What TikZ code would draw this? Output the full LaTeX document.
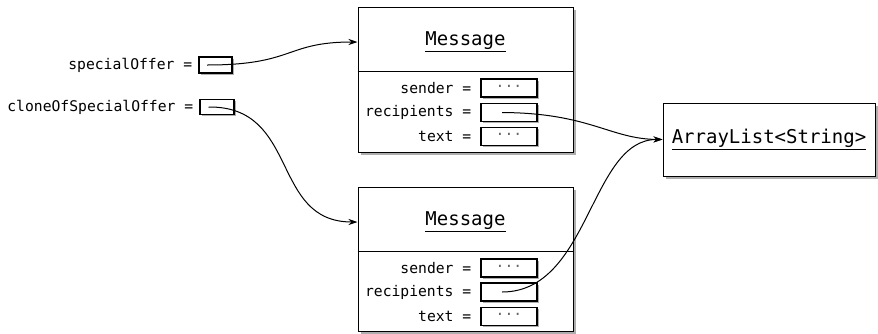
\documentclass[tikz,border=0pt]{standalone}
\usepackage{fontspec}
\setmonofont{DejaVu Sans Mono}
\usetikzlibrary{positioning}
\usetikzlibrary{shadows,arrows.meta}

\begin{document}
\begin{tikzpicture}[x=1pt,y=-1pt,
  objbox/.style={draw,line width=1pt,fill=white,
    drop shadow={shadow xshift=2.5pt,shadow yshift=-2.5pt,fill=black!45,opacity=.7}},
  slot/.style={draw,line width=1.1pt,fill=white,inner sep=0pt,minimum width=56pt,minimum height=18pt,
    font=\ttfamily\fontsize{14.7}{17}\selectfont,text=black!60,
    drop shadow={shadow xshift=1.5pt,shadow yshift=-1.5pt,fill=black!45,opacity=.7}},
  lbl/.style={inner sep=0pt,font=\ttfamily\fontsize{14.7}{17}\selectfont},
  ttl/.style={inner sep=0pt,font=\ttfamily\fontsize{19}{22}\selectfont},
  ref/.style={line width=1pt,-{Stealth[length=9pt,width=6pt]}}]
\useasboundingbox (0,0) rectangle (878,333);

% the two variables
\node[slot,minimum width=33pt,minimum height=16pt] (offer) at (215.5,65) {};
\node[lbl,left=6pt of offer] (offerlbl) {specialOffer =};
\node[slot,minimum width=34pt,minimum height=15pt] (clone) at (217,107) {};
\node[lbl,left=6pt of clone] (clonelbl) {cloneOfSpecialOffer =};

% first Message object
\node[objbox,minimum width=215pt,minimum height=145pt] (msgA) at (465.5,79.5) {};
\node[ttl] (msgAname) at (465.5,42) {\underline{Message}};
\draw[line width=1pt] ([yshift=-65pt]msgA.north west) -- ([yshift=-65pt]msgA.north east);
\node[slot] (sendA) at (509,88) {···};
\node[slot] (recipA) at (509,112.5) {};
\node[slot] (textA) at (509,136.5) {···};
\node[lbl,left=9pt of sendA] {sender =};
\node[lbl,left=9pt of recipA] {recipients =};
\node[lbl,left=9pt of textA] {text =};

% second Message object
\node[objbox,minimum width=215pt,minimum height=144pt] (msgB) at (465.5,259) {};
\node[ttl] (msgBname) at (465.5,222) {\underline{Message}};
\draw[line width=1pt] ([yshift=-65pt]msgB.north west) -- ([yshift=-65pt]msgB.north east);
\node[slot] (sendB) at (509,268) {···};
\node[slot] (recipB) at (509,292) {};
\node[slot] (textB) at (509,316.5) {···};
\node[lbl,left=9pt of sendB] {sender =};
\node[lbl,left=9pt of recipB] {recipients =};
\node[lbl,left=9pt of textB] {text =};

% shared list
\node[objbox,minimum width=212pt,minimum height=73pt] (list) at (769,139.5) {};
\node[ttl] (listname) at (list.center) {\underline{ArrayList<String>}};

% references
\draw[ref] ([xshift=-8.5pt]offer.center) .. controls (295,65) and (285,42) .. (msgAname -| msgA.west);
\draw[ref] ([xshift=-8.5pt]clone.center) .. controls (300,106) and (270,222) .. (msgBname -| msgB.west);
\draw[ref] ([xshift=-7pt]recipA.center) .. controls (590,113) and (610,139) .. (list.west);
\draw[ref] ([xshift=-7pt]recipB.center) .. controls (590,292) and (590,139) .. (list.west);
\end{tikzpicture}
\end{document}
